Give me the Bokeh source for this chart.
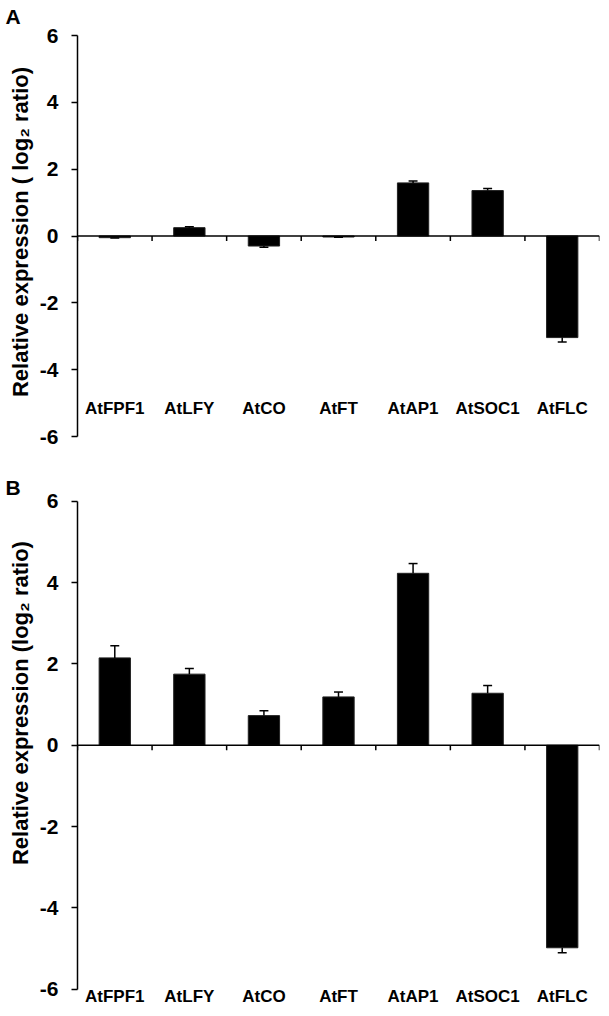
import numpy as np
from bokeh.plotting import figure
from bokeh.layouts import column
from bokeh.models import ColumnDataSource, LabelSet, FixedTicker, Span
from bokeh.core.properties import value
from bokeh.embed import file_html
from bokeh.resources import INLINE

genes = ["AtFPF1", "AtLFY", "AtCO", "AtFT", "AtAP1", "AtSOC1", "AtFLC"]
a_vals = [-0.05, 0.25, -0.30, -0.03, 1.59, 1.36, -3.04]
a_err = [0.01, 0.03, 0.04, 0.01, 0.06, 0.06, 0.13]
b_vals = [2.15, 1.75, 0.73, 1.19, 4.23, 1.28, -4.98]
b_err = [0.30, 0.14, 0.12, 0.12, 0.24, 0.19, 0.12]
y_ticks = [-6, -4, -2, 0, 2, 4, 6]

FONT = "Liberation Sans"


def make_panel(tag, vals, errs, ylabel, label_y, height, btop, bbottom, yr):
    n = len(genes)
    x = np.arange(n) + 0.5
    vals = np.array(vals, dtype=float)
    errs = np.array(errs, dtype=float)
    sign = np.where(vals >= 0, 1.0, -1.0)
    ends = vals + sign * errs
    src = ColumnDataSource(dict(x=x, top=vals, end=ends, x0=x - 0.06, x1=x + 0.06,
                                gene=genes, ly=[label_y] * n))
    p = figure(width=606, height=height, x_range=(0, n), y_range=yr,
               output_backend="svg", toolbar_location=None, x_axis_location=None,
               min_border_left=77, min_border_right=7,
               min_border_top=btop, min_border_bottom=bbottom, title=tag)
    p.outline_line_color = None
    p.grid.visible = False
    p.background_fill_color = "white"
    p.border_fill_color = "white"

    p.title.text_font = FONT
    p.title.text_font_size = "21px"
    p.title.text_font_style = "bold"
    p.title.text_color = "black"
    p.title.align = "left"
    p.title.offset = -72
    p.title.standoff = 0

    p.vbar(x="x", top="top", bottom=0, width=0.42, source=src,
           fill_color="black", line_color="#222222", line_width=1)
    p.segment(x0="x", y0="top", x1="x", y1="end", source=src, line_color="black", line_width=1.5)
    p.segment(x0="x0", y0="end", x1="x1", y1="end", source=src, line_color="black", line_width=1.5)

    # category axis drawn at y = 0 with tick marks between categories
    p.add_layout(Span(location=0, dimension="width", line_color="black", line_width=1.5))
    p.ray(x=list(range(n + 1)), y=[0] * (n + 1), length=5, length_units="screen",
          angle=-np.pi / 2, line_color="black", line_width=1.5)

    ya = p.yaxis[0]
    ya.ticker = FixedTicker(ticks=y_ticks)
    ya.bounds = (min(y_ticks), max(y_ticks))
    ya.major_label_overrides = {t: str(t) for t in y_ticks}
    ya.major_tick_in = 0
    ya.major_tick_out = 6
    ya.minor_tick_line_color = None
    ya.axis_line_color = "black"
    ya.axis_line_width = 1.5
    ya.major_tick_line_color = "black"
    ya.major_tick_line_width = 1.5
    ya.major_label_text_font = FONT
    ya.major_label_text_font_style = "bold"
    ya.major_label_text_font_size = "21px"
    ya.major_label_text_color = "black"
    ya.major_label_standoff = 13
    ya.axis_label = ylabel
    ya.axis_label_text_font = FONT
    ya.axis_label_text_font_style = "bold"
    ya.axis_label_text_font_size = "22px"
    ya.axis_label_text_color = "black"
    ya.axis_label_standoff = 4

    labels = LabelSet(x="x", y="ly", text="gene", source=src, text_align="center",
                      text_baseline="middle", text_font=value(FONT), text_font_style="bold",
                      text_font_size="17px", text_color="black")
    p.add_layout(labels)
    return p


pa = make_panel("A", a_vals, a_err, "Relative expression ( log\u2082 ratio)", -5.15,
                472, 27, 36, (-6, 6.24))
pb = make_panel("B", b_vals, b_err,
                "\u00a0" * 16 + "Relative expression (log\u2082 ratio)", -6.18,
                533, 26, 0, (-6.40, 6.07))

layout = column(pa, pb)
open("out.html", "w").write(file_html(layout, INLINE))
